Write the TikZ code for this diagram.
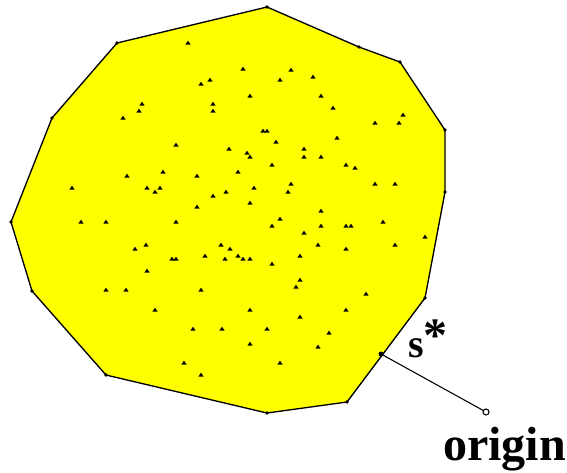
\documentclass[tikz,border=0pt]{standalone}
\usepackage{fontspec}
\setmainfont{Liberation Serif}
\usepackage{xcolor}
\definecolor{hullyellow}{RGB}{255,255,0}

\begin{document}
\begin{tikzpicture}[x=0.75pt,y=-0.75pt]
\useasboundingbox (0,0) rectangle (567,472);

%hull:
\draw[fill=hullyellow, line width=1pt, line join=round] (267,7) -- (359,47) -- (400,62) -- (445,130) -- (445,192) -- (425,298) -- (347,402) -- (267,413) -- (106,375) -- (32,291) -- (11,222) -- (52,118) -- (117,43) -- cycle;
\foreach \x/\y in {267/7,359/47,400/62,445/130,445/192,425/298,347/402,267/413,106/375,32/291,11/222,52/118,117/43}
  \fill (\x,\y) circle(1.8);

%points:
\foreach \x/\y in {188/43,243/69,280/80,210/80,201/84,250/96,142/104,139/111,213/104,213/111,123/118,263/131,267/131,276/142,176/145,229/149,247/153,250/157,272/165,238/172,163/172,127/176,197/176,72/188,147/188,160/188,155/192,254/188,226/192,288/192,213/196,250/203,197/207,280/219,81/222,106/222,176/222,272/226,291/70,313/77,321/96,333/108,403/115,375/123,399/123,337/138,304/149,304/157,321/157,346/165,355/168,291/184,375/184,395/184,321/211,321/226,346/226,351/226,383/222,304/233,425/237,135/249,146/245,172/259,176/259,205/256,221/245,230/249,225/259,238/256,243/259,250/259,272/264,147/271,106/290,126/290,201/290,155/310,250/310,193/329,222/329,267/329,250/344,184/363,280/363,201/375,318/245,346/249,395/245,300/256,300/280,296/287,366/294,346/310,300/317,329/333,318/347}
  \fill (\x,\y) +(-2.6,1.5) -- +(2.6,1.5) -- +(0,-2.3) -- cycle;

%nearest point to origin
\coordinate (S) at (381,354);
\coordinate (O) at (486,412);
\draw[line width=0.8pt] (S) -- (O);
\fill (S) circle(2.5);
\draw[line width=0.8pt, fill=white] (O) circle(3);
\node[anchor=base west, inner sep=0, font=\fontsize{30}{30}\selectfont\bfseries] (slabel) at (408,357) {s\raisebox{4pt}{\fontsize{36}{36}\selectfont *}};
\node[anchor=base west, inner sep=0, font=\fontsize{36}{36}\selectfont\bfseries] (olabel) at (443,460) {origin};

\end{tikzpicture}
\end{document}
